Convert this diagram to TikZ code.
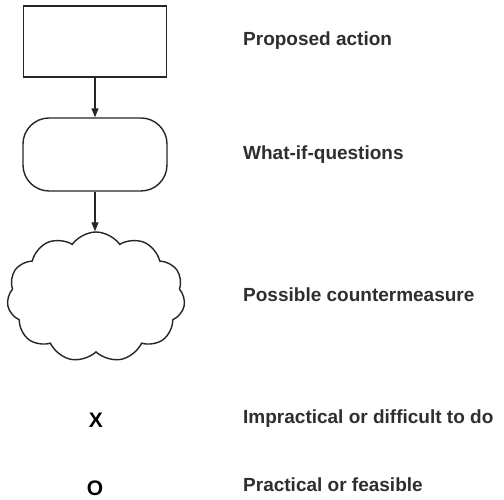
\documentclass[tikz,border=0pt]{standalone}
\usepackage{fontspec}
\setmainfont{Liberation Sans}
\usetikzlibrary{shapes.symbols,arrows.meta}
\begin{document}
\begin{tikzpicture}[x=1pt,y=1pt,
  shapeline/.style={draw=black!85,line width=1.4pt,fill=white},
  flow/.style={draw=black!85,line width=1.2pt,-{Triangle[length=9pt,width=7pt]}},
  legend/.style={anchor=base west,inner sep=0pt,text=black!82,font=\bfseries\fontsize{19}{22}\selectfont},
  mark sym/.style={inner sep=0pt,text=black,font=\bfseries\fontsize{21}{24}\selectfont}]
\useasboundingbox (0,0) rectangle (504,500);
% flow shapes
\node[shapeline,minimum width=143pt,minimum height=71pt,inner sep=0pt] (act) at (95,458.5) {};
\node[shapeline,rounded corners=26pt,minimum width=144pt,minimum height=73pt,inner sep=0pt] (whatif) at (95,345.5) {};
\node[shapeline,cloud,cloud puffs=11,cloud puff arc=110,aspect=1.37,minimum width=178pt,minimum height=130pt,inner sep=0pt] (cm) at (96,203) {};
\draw[flow] (act.south) -- (whatif.north);
\draw[flow] (whatif.south) -- (whatif.south |- cm.north);
% symbols
\node[mark sym] (x) at (96,80) {X};
\node[mark sym] (o) at (95,12) {O};
% legend texts
\node[legend] (t1) at (243,454) {Proposed action};
\node[legend] (t2) at (243,340) {What-if-questions};
\node[legend] (t3) at (243,198) {Possible countermeasure};
\node[legend] (t4) at (243,76) {Impractical or difficult to do};
\node[legend] (t5) at (243,8) {Practical or feasible};
\end{tikzpicture}
\end{document}
